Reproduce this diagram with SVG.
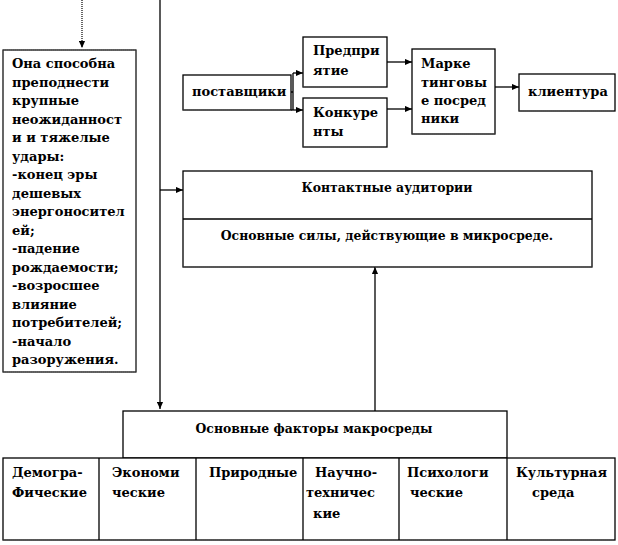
<svg xmlns="http://www.w3.org/2000/svg" width="618" height="545" viewBox="0 0 618 545">
<style>
text{font-family:"DejaVu Serif","Liberation Serif",serif;font-weight:bold;font-size:13px;fill:#000}
.box{fill:#fff;stroke:#000;stroke-width:1.3}
.dot{fill:none;stroke:#555;stroke-width:1.2;stroke-dasharray:1,1}
.ln{fill:none;stroke:#000;stroke-width:1.3}
.lc{font-size:13px}
.ct{font-size:12.4px}
</style>
<defs>
<marker id="ah" viewBox="0 0 8 8" refX="8" refY="4" markerWidth="7" markerHeight="7" orient="auto" markerUnits="userSpaceOnUse">
<path d="M0,0.5 L8,4 L0,7.5 Z" fill="#000"/>
</marker>
</defs>
<rect width="618" height="545" fill="#fff"/>

<g id="connectors">
<path class="dot" d="M82,0 V48" marker-end="url(#ah)" style="stroke:#000"/>
<path class="ln" d="M160,0 V409" marker-end="url(#ah)"/>
<path class="ln" d="M160,190 H183" marker-end="url(#ah)"/>
<path class="ln" d="M291,92 H293 M293,73 V110"/>
<path class="ln" d="M293,73 H303" marker-end="url(#ah)"/>
<path class="ln" d="M291,110 H303" marker-end="url(#ah)"/>
<path class="ln" d="M387,62 H412" marker-end="url(#ah)"/>
<path class="ln" d="M387,109 H412" marker-end="url(#ah)"/>
<path class="ln" d="M495,87 H519" marker-end="url(#ah)"/>
<path class="ln" d="M375,411 V267" marker-end="url(#ah)"/>
</g>

<g id="left-box">
<rect x="3" y="50" width="133" height="322" fill="#fff" stroke="#000" stroke-width="1.2"/>
<path class="dot" d="M3,50 H136 M3,372 H136"/>
<g class="lc">
<text x="12" y="68">Она способна</text>
<text x="12" y="86.5">преподнести</text>
<text x="12" y="105">крупные</text>
<text x="12" y="123.5">неожиданност</text>
<text x="12" y="142">и и тяжелые</text>
<text x="12" y="160.5">удары:</text>
<text x="12" y="179">-конец эры</text>
<text x="12" y="197.5">дешевых</text>
<text x="12" y="216">энергоносител</text>
<text x="12" y="234.5">ей;</text>
<text x="12" y="253">-падение</text>
<text x="12" y="271.5">рождаемости;</text>
<text x="12" y="290">-возросшее</text>
<text x="12" y="308.5">влияние</text>
<text x="12" y="327">потребителей;</text>
<text x="12" y="345.5">-начало</text>
<text x="12" y="364">разоружения.</text>
</g>
</g>

<g id="postavshiki">
<rect class="box" x="183" y="75" width="108" height="35"/>
<path class="dot" d="M183,110 H291"/>
<text class="lc" x="192" y="96">поставщики</text>
</g>

<g id="predpriyatie">
<rect class="box" x="303" y="37" width="84" height="50"/>
<path class="dot" d="M303,87 H387"/>
<text class="lc" x="313" y="55">Предпри</text>
<text class="lc" x="313" y="75">ятие</text>
</g>

<g id="konkurenty">
<rect class="box" x="303" y="98" width="84" height="49"/>
<path class="dot" d="M303,147 H387"/>
<text class="lc" x="313" y="117">Конкуре</text>
<text class="lc" x="313" y="136">нты</text>
</g>

<g id="posredniki">
<rect class="box" x="412" y="49" width="83" height="85"/>
<path class="dot" d="M412,134 H495"/>
<text class="lc" x="421" y="68">Марке</text>
<text class="lc" x="421" y="87">тинговы</text>
<text class="lc" x="421" y="105">е посред</text>
<text class="lc" x="421" y="123">ники</text>
</g>

<g id="klientura">
<rect class="box" x="519" y="74" width="96" height="37"/>
<path class="dot" d="M519,111 H615"/>
<text class="lc" x="528" y="96">клиентура</text>
</g>

<g id="kontakt">
<rect class="box" x="183" y="171" width="409" height="96"/>
<path class="ln" d="M183,219 H592"/>
<path class="dot" d="M183,267 H592"/>
<text class="ct" x="387" y="192" text-anchor="middle">Контактные аудитории</text>
<text class="ct" x="387" y="240" text-anchor="middle">Основные силы, действующие в микросреде.</text>
</g>

<g id="makro">
<rect class="box" x="123" y="411" width="384" height="47"/>
<text class="ct" x="314" y="433" text-anchor="middle">Основные факторы макросреды</text>
</g>

<g id="factors">
<rect class="box" x="3" y="458" width="612" height="82"/>
<path class="dot" d="M3,540 H615"/>
<path class="ln" d="M99,458 V540 M196,458 V540 M303,458 V540 M399,458 V540 M507,458 V540"/>
<g class="lc">
<text x="12" y="477">Демогра-</text>
<text x="12" y="497">Фичеcкие</text>
<text x="112" y="477">Экономи</text>
<text x="112" y="497">чеcкие</text>
<text x="209" y="477">Природные</text>
<text x="315" y="477">Научно-</text>
<text x="306" y="497">техничес</text>
<text x="313" y="518">кие</text>
<text x="407" y="477">Психологи</text>
<text x="410" y="497">чеcкие</text>
<text x="516" y="477">Культурная</text>
<text x="532" y="497">среда</text>
</g>
</g>
</svg>
